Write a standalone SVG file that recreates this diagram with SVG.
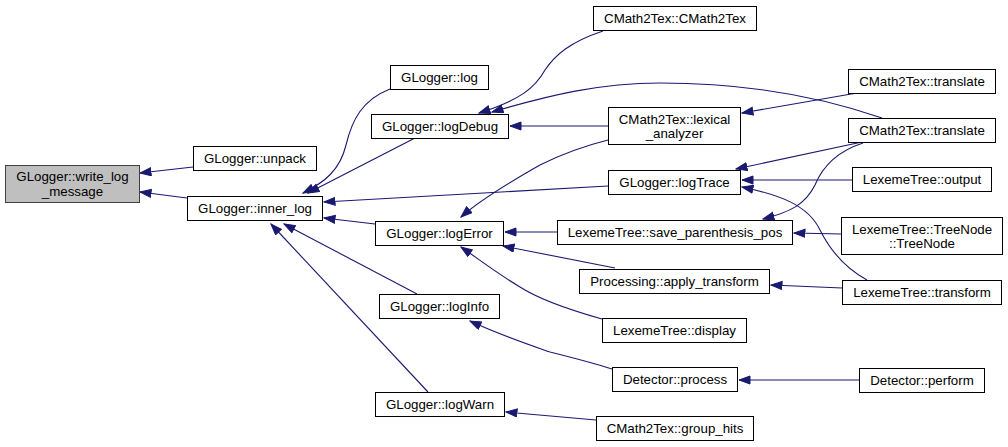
<svg xmlns="http://www.w3.org/2000/svg" width="1008" height="447" viewBox="0 0 1008 447">
<defs>
<style>
.n rect{fill:#ffffff;stroke:#000000;stroke-width:1}
.n.hl rect{fill:#bfbfbf;stroke:#404040}
.n text{font-family:"Liberation Sans",Arial,sans-serif;font-size:13.3px;text-anchor:middle;fill:#000000}
.e path{fill:none;stroke:#191970;stroke-width:1.1;marker-end:url(#ah)}
</style>
<marker id="ah" markerUnits="userSpaceOnUse" markerWidth="13" markerHeight="10" refX="11.5" refY="4.5" orient="auto">
<path d="M0.5,0.5 L11.5,4.5 L0.5,8.5 z" fill="#191970" stroke="#191970" stroke-width="1"/>
</marker>
</defs>
<rect width="1008" height="447" fill="#ffffff"/>
<g id="edges" class="e">
<path d="M193,167 L140,173"/>
<path d="M187,198 L140,192"/>
<path d="M390,89 C362,100 352,120 346,145 C340,170 325,182 303,193"/>
<path d="M415,138 L308,193"/>
<path d="M608,186 L324,202"/>
<path d="M375,224 L324,218"/>
<path d="M417,294 L284,224"/>
<path d="M428,392 L271,224"/>
<path d="M603,31 C570,42 555,55 545,70 C535,88 520,100 479,113"/>
<path d="M882,118 C830,100 760,83 660,83 C600,83 550,95 492,112"/>
<path d="M608,126 L510,126"/>
<path d="M608,140 C580,147 560,155 540,165 C510,182 480,200 461,217"/>
<path d="M862,142 L736,169"/>
<path d="M852,180 L742,180"/>
<path d="M867,280 C845,268 830,250 820,230 C808,205 780,195 742,187"/>
<path d="M857,93 L742,113"/>
<path d="M863,143 C835,152 822,168 815,185 C805,205 790,212 763,219"/>
<path d="M841,234 L794,233"/>
<path d="M557,232 L505,232"/>
<path d="M615,268 L503,246"/>
<path d="M602,319 C570,310 540,300 520,287 C495,272 480,260 461,247"/>
<path d="M842,288 L771,285"/>
<path d="M612,369 C590,362 570,357 550,352 C530,345 500,335 470,321"/>
<path d="M859,380 L739,380"/>
<path d="M596,420 L506,412"/>
</g>
<g id="node_write_log_message" class="n hl"><rect x="5.5" y="165.5" width="134" height="37"/><text x="72.5" y="181">GLogger::write_log</text><text x="72.5" y="195.5">_message</text></g>
<g id="node_unpack" class="n"><rect x="193.5" y="146.5" width="123" height="24"/><text x="255" y="163">GLogger::unpack</text></g>
<g id="node_inner_log" class="n"><rect x="187.5" y="196.5" width="135" height="24"/><text x="255" y="213">GLogger::inner_log</text></g>
<g id="node_log" class="n"><rect x="390.5" y="65.5" width="98" height="24"/><text x="439.5" y="82">GLogger::log</text></g>
<g id="node_logDebug" class="n"><rect x="371.5" y="114.5" width="137" height="24"/><text x="440" y="131">GLogger::logDebug</text></g>
<g id="node_logError" class="n"><rect x="375.5" y="221.5" width="128" height="24"/><text x="439.5" y="238">GLogger::logError</text></g>
<g id="node_logInfo" class="n"><rect x="379.5" y="294.5" width="120" height="24"/><text x="439.5" y="311">GLogger::logInfo</text></g>
<g id="node_logWarn" class="n"><rect x="375.5" y="392.5" width="129" height="24"/><text x="440" y="409">GLogger::logWarn</text></g>
<g id="node_CMath2Tex" class="n"><rect x="593.5" y="6.5" width="163" height="24"/><text x="675" y="23">CMath2Tex::CMath2Tex</text></g>
<g id="node_lexical_analyzer" class="n"><rect x="608.5" y="107.5" width="132" height="37"/><text x="674.5" y="124">CMath2Tex::lexical</text><text x="674.5" y="138">_analyzer</text></g>
<g id="node_logTrace" class="n"><rect x="608.5" y="170.5" width="132" height="24"/><text x="674.5" y="187">GLogger::logTrace</text></g>
<g id="node_save_parenthesis_pos" class="n"><rect x="557.5" y="220.5" width="235" height="24"/><text x="675" y="237">LexemeTree::save_parenthesis_pos</text></g>
<g id="node_apply_transform" class="n"><rect x="579.5" y="269.5" width="190" height="24"/><text x="674.5" y="286">Processing::apply_transform</text></g>
<g id="node_display" class="n"><rect x="602.5" y="318.5" width="144" height="24"/><text x="674.5" y="335">LexemeTree::display</text></g>
<g id="node_process" class="n"><rect x="612.5" y="367.5" width="125" height="24"/><text x="675" y="384">Detector::process</text></g>
<g id="node_group_hits" class="n"><rect x="596.5" y="416.5" width="157" height="24"/><text x="675" y="433">CMath2Tex::group_hits</text></g>
<g id="node_translate1" class="n"><rect x="848.5" y="69.5" width="147" height="24"/><text x="922" y="86">CMath2Tex::translate</text></g>
<g id="node_translate2" class="n"><rect x="848.5" y="118.5" width="147" height="24"/><text x="922" y="135">CMath2Tex::translate</text></g>
<g id="node_output" class="n"><rect x="852.5" y="167.5" width="139" height="24"/><text x="922" y="184">LexemeTree::output</text></g>
<g id="node_TreeNode" class="n"><rect x="841.5" y="217.5" width="161" height="37"/><text x="922" y="233.5">LexemeTree::TreeNode</text><text x="922" y="247.5">::TreeNode</text></g>
<g id="node_transform" class="n"><rect x="842.5" y="280.5" width="159" height="24"/><text x="922" y="297">LexemeTree::transform</text></g>
<g id="node_perform" class="n"><rect x="859.5" y="368.5" width="125" height="24"/><text x="922" y="385">Detector::perform</text></g>
</svg>
